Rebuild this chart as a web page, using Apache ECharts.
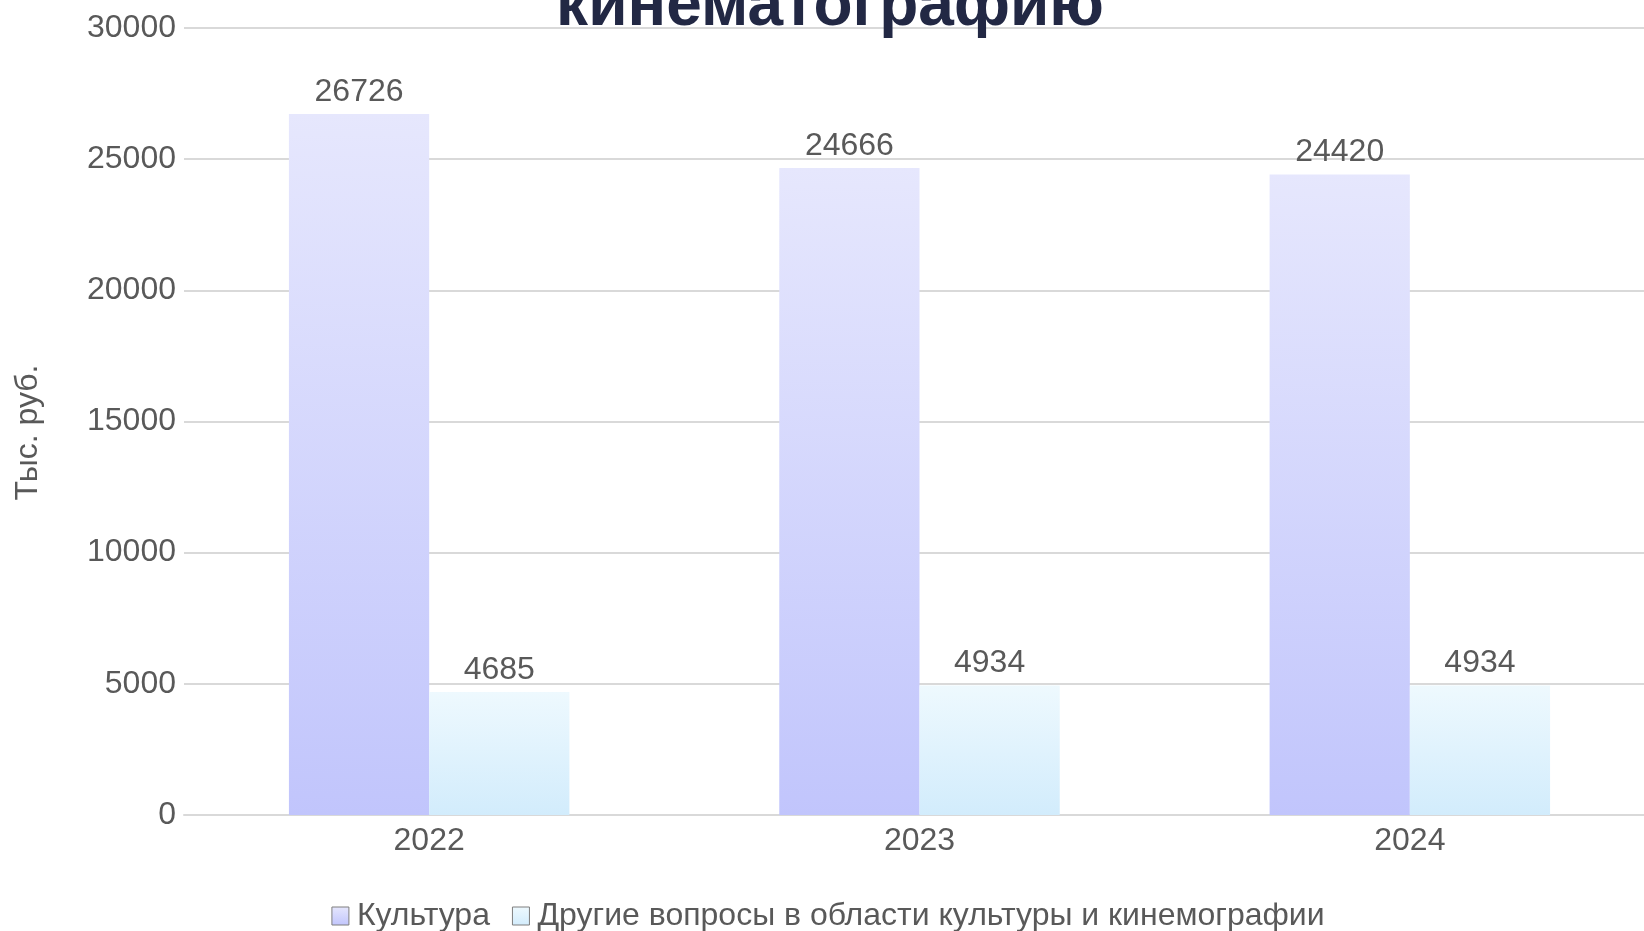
<!DOCTYPE html>
<html>
<head>
<meta charset="utf-8">
<script src="https://cdn.jsdelivr.net/npm/echarts@6/dist/echarts.min.js"></script>
<style>
  html, body { margin: 0; padding: 0; background: #fff; overflow: hidden; }
  #chart { width: 1656px; height: 931px; }
</style>
</head>
<body>
<div id="chart"></div>
<script>
var years = ['2022', '2023', '2024'];
var culture = [26726, 24666, 24420];
var otherCulture = [4685, 4934, 4934];
var seriesNames = ['Культура', 'Другие вопросы в области культуры и кинемографии'];

var font = '"Liberation Sans", Arial, sans-serif';
var textColor = '#595959';

function grad(top, bottom) {
    return new echarts.graphic.LinearGradient(0, 0, 0, 1, [
        { offset: 0, color: top },
        { offset: 1, color: bottom },
    ]);
}

var labelStyle = {
    show: true,
    position: 'top',
    distance: 6,
    color: textColor,
    fontFamily: font,
    fontSize: 32,
};

// plot area runs slightly past the right edge of the window, as in the original
var myChart = echarts.init(document.getElementById('chart'));
myChart.setOption({
    animation: false,
    title: {
        text: 'кинематографию',
        left: 825,
        textAlign: 'center',
        top: -30,
        textStyle: {
            fontFamily: font,
            fontWeight: 'bold',
            fontSize: 64,
            color: '#222844',
        },
    },
    legend: {
        bottom: -6,
        left: 'center',
        icon: 'rect',
        itemWidth: 17,
        itemHeight: 18,
        itemGap: 22,
        itemStyle: {
            borderColor: '#7f7f7f',
            borderWidth: 1,
        },
        textStyle: {
            color: textColor,
            fontFamily: font,
            fontSize: 32,
            padding: [0, 0, 0, 3],
        },
        data: seriesNames,
    },
    grid: {
        left: 184,
        right: 1,
        top: 28,
        bottom: 116,
    },
    xAxis: {
        type: 'category',
        data: years,
        axisLine: { lineStyle: { color: '#d9d9d9', width: 2 } },
        axisTick: { show: false },
        axisLabel: {
            color: textColor,
            fontFamily: font,
            fontSize: 32,
            margin: 10,
        },
    },
    yAxis: {
        type: 'value',
        min: 0,
        max: 30000,
        interval: 5000,
        name: 'Тыс. руб.',
        nameLocation: 'middle',
        nameRotate: 90,
        nameGap: 140,
        nameTextStyle: {
            color: textColor,
            fontFamily: font,
            fontSize: 32,
            padding: [0, 22, 0, 0],
        },
        axisLine: { show: false },
        axisTick: { show: false },
        axisLabel: {
            color: textColor,
            fontFamily: font,
            fontSize: 32,
            margin: 8,
            formatter: function (v) { return String(v); },
        },
        splitLine: { lineStyle: { color: '#d9d9d9', width: 2 } },
    },
    series: [{
        name: seriesNames[0],
        type: 'bar',
        data: culture,
        barWidth: '28.6%',
        barGap: '0%',
        itemStyle: {
            color: grad('#e6e7fd', '#c1c5fc'),
        },
        label: labelStyle,
    }, {
        name: seriesNames[1],
        type: 'bar',
        data: otherCulture,
        barWidth: '28.6%',
        itemStyle: {
            color: grad('#eef9fe', '#d2ecfc'),
        },
        label: labelStyle,
    }],
});
window.addEventListener('resize', myChart.resize);
</script>
</body>
</html>
